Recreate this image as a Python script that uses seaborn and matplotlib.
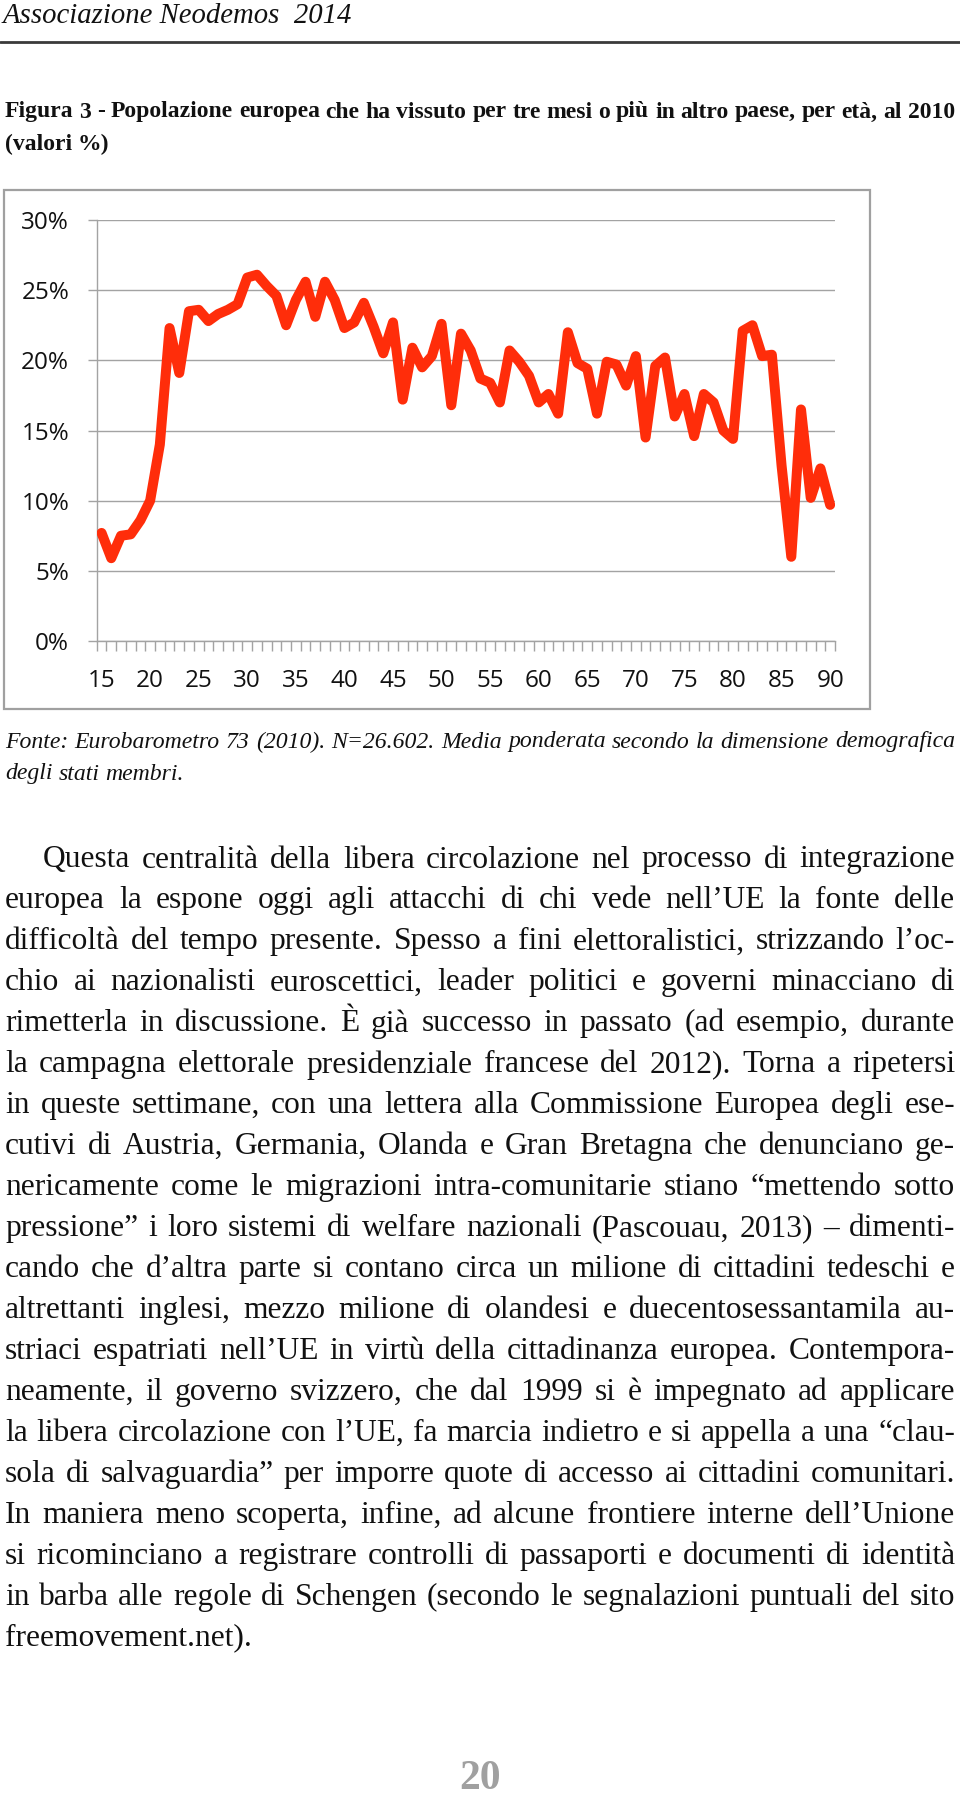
import numpy as np
import pandas as pd
import matplotlib
matplotlib.use('Agg')
import matplotlib.pyplot as plt
import seaborn as sns
from matplotlib.font_manager import FontProperties
from matplotlib.patches import Rectangle
from matplotlib.lines import Line2D

W, H = 960, 1795

# data (share of population, %, by age)
ages = list(range(15, 91))
share = [7.7, 5.9, 7.5, 7.6, 8.6, 10.0, 14.0, 22.3, 19.1, 23.5,
         23.6, 22.8, 23.3, 23.6, 24.0, 25.9, 26.1, 25.3, 24.6, 22.5,
         24.3, 25.6, 23.1, 25.6, 24.3, 22.3, 22.7, 24.1, 22.4, 20.5,
         22.7, 17.2, 20.9, 19.5, 20.3, 22.6, 16.8, 21.9, 20.7, 18.7,
         18.4, 17.0, 20.7, 19.9, 18.9, 17.0, 17.6, 16.2, 22.0, 19.8,
         19.4, 16.2, 19.9, 19.7, 18.2, 20.3, 14.5, 19.6, 20.2, 16.0,
         17.6, 14.6, 17.6, 17.0, 15.0, 14.4, 22.1, 22.5, 20.3, 20.4,
         12.5, 6.0, 16.5, 10.2, 12.3, 9.7]
y_ticks = [0, 5, 10, 15, 20, 25, 30]
y_tick_labels = ['0%', '5%', '10%', '15%', '20%', '25%', '30%']
x_ticks = list(range(15, 91, 5))

header = "Associazione Neodemos  2014"
title_lines = [
    "Figura 3 - Popolazione europea che ha vissuto per tre mesi o più in altro paese, per età, al 2010",
    "(valori %)",
]
source_lines = [
    "Fonte: Eurobarometro 73 (2010). N=26.602. Media ponderata secondo la dimensione demografica",
    "degli stati membri.",
]
body_lines = [
    "Questa centralità della libera circolazione nel processo di integrazione",
    "europea la espone oggi agli attacchi di chi vede nell’UE la fonte delle",
    "difficoltà del tempo presente. Spesso a fini elettoralistici, strizzando l’oc-",
    "chio ai nazionalisti euroscettici, leader politici e governi minacciano di",
    "rimetterla in discussione. È già successo in passato (ad esempio, durante",
    "la campagna elettorale presidenziale francese del 2012). Torna a ripetersi",
    "in queste settimane, con una lettera alla Commissione Europea degli ese-",
    "cutivi di Austria, Germania, Olanda e Gran Bretagna che denunciano ge-",
    "nericamente come le migrazioni intra-comunitarie stiano “mettendo sotto",
    "pressione” i loro sistemi di welfare nazionali (Pascouau, 2013) – dimenti-",
    "cando che d’altra parte si contano circa un milione di cittadini tedeschi e",
    "altrettanti inglesi, mezzo milione di olandesi e duecentosessantamila au-",
    "striaci espatriati nell’UE in virtù della cittadinanza europea. Contempora-",
    "neamente, il governo svizzero, che dal 1999 si è impegnato ad applicare",
    "la libera circolazione con l’UE, fa marcia indietro e si appella a una “clau-",
    "sola di salvaguardia” per imporre quote di accesso ai cittadini comunitari.",
    "In maniera meno scoperta, infine, ad alcune frontiere interne dell’Unione",
    "si ricominciano a registrare controlli di passaporti e documenti di identità",
    "in barba alle regole di Schengen (secondo le segnalazioni puntuali del sito",
    "freemovement.net).",
]
page_number = "20"

LINE_RED = '#ff2d0a'
GRID = '#a3a3a3'
SERIF = 'Liberation Serif'


def fx(px):
    return px / W


def fy(py):
    return 1 - py / H


def measure(renderer, s, prop):
    return renderer.get_text_width_height_descent(s, prop, ismath=False)[0]


def fitted(renderer, prop, lines, widths):
    # shrink/grow the font so the widest line fits its width
    base = prop.get_size_in_points()
    ratio = min(w / measure(renderer, l, prop) for l, w in zip(lines, widths))
    p = prop.copy()
    p.set_size(base * ratio)
    return p


def draw_line(fig, renderer, line, x0, x1, y, prop, justify=True):
    words = line.split(' ')
    widths = [measure(renderer, w, prop) for w in words]
    if justify and len(words) > 1:
        gap = (x1 - x0 - sum(widths)) / (len(words) - 1)
    else:
        gap = measure(renderer, 'a a', prop) - measure(renderer, 'aa', prop)
    x = x0
    for word, wd in zip(words, widths):
        fig.text(fx(x), fy(y), word, fontproperties=prop, ha='left', va='center', color='#111111')
        x += wd + gap


sns.set_style('white')
plt.rcParams['font.family'] = ['Open Sans', 'DejaVu Sans']

fig = plt.figure(figsize=(W / 100, H / 100), dpi=100)
renderer = fig.canvas.get_renderer()

# ---- chart ----
ax = fig.add_axes([fx(96.7), fy(641), (835 - 96.7) / W, 421 / H])
df = pd.DataFrame({'age': ages, 'share': share})
sns.lineplot(data=df, x='age', y='share', color=LINE_RED, linewidth=7.2, ax=ax, zorder=3)
ln = ax.lines[0]
ln.set_solid_joinstyle('round')
ln.set_solid_capstyle('round')

ax.set_xlim(14.5, 90.5)
ax.set_ylim(0, 30)
ax.set_yticks(y_ticks)
ax.set_yticklabels(y_tick_labels)
ax.set_xticks(x_ticks)
ax.set_xticks(np.arange(14.5, 90.6, 1), minor=True)
ax.set_xlabel('')
ax.set_ylabel('')
ax.yaxis.grid(True, color=GRID, lw=1.0)
ax.xaxis.grid(False)
ax.set_axisbelow(True)
for side in ['top', 'right']:
    ax.spines[side].set_visible(False)
for side in ['left', 'bottom']:
    ax.spines[side].set_color(GRID)
    ax.spines[side].set_linewidth(1.0)
ax.tick_params(axis='y', which='major', left=True, length=6.8, width=1, color=GRID,
               pad=13, labelsize=17.5, labelcolor='#111111')
ax.tick_params(axis='x', which='major', bottom=True, length=0, pad=20,
               labelsize=17.5, labelcolor='#111111')
ax.tick_params(axis='x', which='minor', bottom=True, length=7, width=1, color=GRID, direction='out')

fig.add_artist(Rectangle((fx(4), fy(708.5)), 866 / W, 518 / H, transform=fig.transFigure,
                         fill=False, ec='#a0a0a0', lw=1.6))

# ---- page text ----
hp = fitted(renderer, FontProperties(family=SERIF, style='italic', size=20), [header], [349])
fig.text(fx(3), fy(16), header, fontproperties=hp, ha='left', va='center', color='#111111')
fig.add_artist(Line2D([0, 1], [fy(42), fy(42)], transform=fig.transFigure, color='#3a3a3a', lw=2))

tp = fitted(renderer, FontProperties(family=SERIF, weight='bold', size=16), title_lines[:1], [950])
draw_line(fig, renderer, title_lines[0], 5, 955, 112, tp)
draw_line(fig, renderer, title_lines[1], 5, 955, 144, tp, justify=False)

sp = fitted(renderer, FontProperties(family=SERIF, style='italic', size=16), source_lines[:1], [950])
draw_line(fig, renderer, source_lines[0], 5, 955, 742, sp)
draw_line(fig, renderer, source_lines[1], 5, 955, 774, sp, justify=False)

full = body_lines[:-1]
avail = [912] + [950] * (len(full) - 1)
bp = fitted(renderer, FontProperties(family=SERIF, size=18), full, [a * 0.985 for a in avail])
for i, line in enumerate(body_lines):
    x0 = 43 if i == 0 else 5
    draw_line(fig, renderer, line, x0, 955, 860 + 40.95 * i, bp, justify=(i < len(body_lines) - 1))

fig.text(fx(480), fy(1789), page_number, fontsize=30, fontweight='bold', family=SERIF,
         color='#a0a0a0', ha='center', va='baseline')

fig.savefig('out.png', dpi=100)
